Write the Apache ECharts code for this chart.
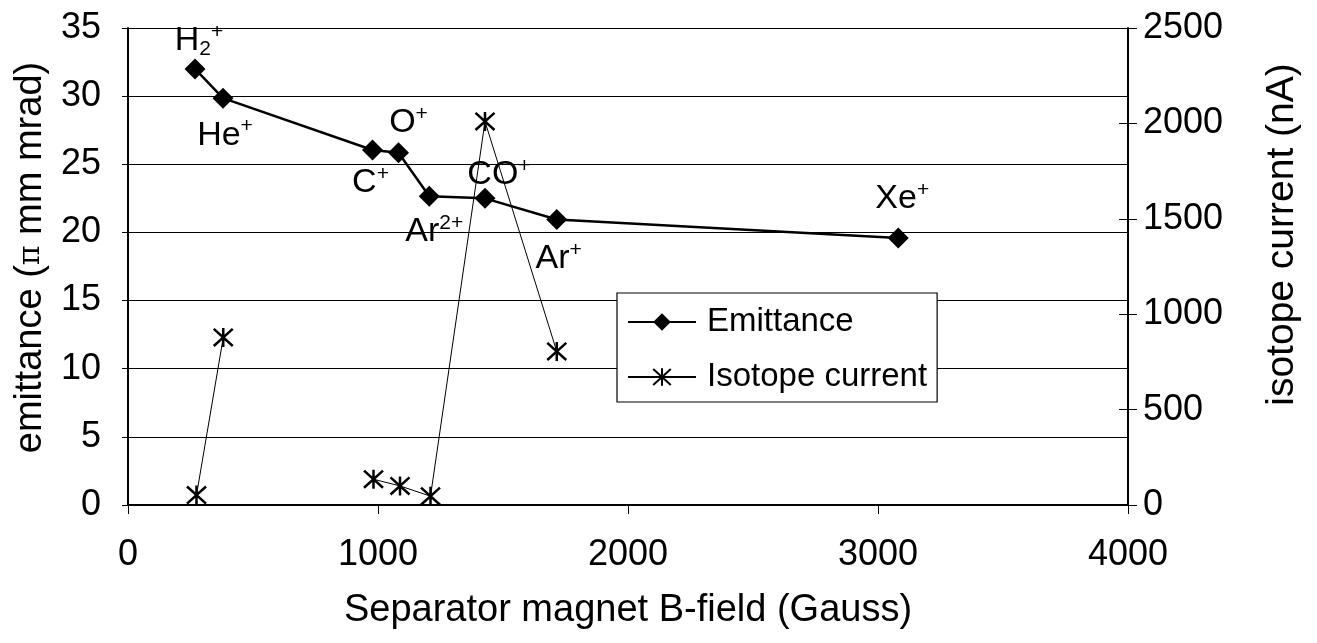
<!DOCTYPE html>
<html>
<head>
<meta charset="utf-8">
<script src="https://cdn.jsdelivr.net/npm/echarts@6/dist/echarts.min.js"></script>
<style>
html,body{margin:0;padding:0;background:#fff;}
#c{width:1317px;height:643px;}
</style>
</head>
<body>
<div id="c"></div>
<script>
// ---- data ----
const bField = [268, 380, 978, 1082, 1205, 1428, 1715, 3081];
const emittance = [32.0, 29.85, 26.05, 25.85, 22.65, 22.5, 20.95, 19.6];
const ionLabels = ['{m|H}{sub|2}{sup|+}', '{m|He}{sup|+}', '{m|C}{sup|+}', '{m|O}{sup|+}', '{m|Ar}{sup|2+}', '{m|CO}{sup|+}', '{m|Ar}{sup|+}', '{m|Xe}{sup|+}'];
const isotopeB = [274, 381, 982, 1088, 1210, 1428, 1715];
const isotopeCurrent = [52, 878, 135, 100, 46, 2010, 805];
const isotopeBreakBefore = [2];
const xTicks = [0, 1000, 2000, 3000, 4000];
const yLeftTicks = [0, 5, 10, 15, 20, 25, 30, 35];
const yRightTicks = [0, 500, 1000, 1500, 2000, 2500];

// ---- label placement (style only) ----
const labelOffsets = [[4, -28], [2, 37], [-2, 33], [10, -30], [5, 35], [14, -24], [2, 39], [4, -39]];

const FONT = '"Liberation Sans", Arial, sans-serif';
const FS = 36;
const NFS = 38;
const richText = {
  m: {fontSize: 34, fontFamily: FONT, color: '#000', lineHeight: 38, verticalAlign: 'middle'},
  sup: {fontSize: 21, fontFamily: FONT, color: '#000', lineHeight: 20, verticalAlign: 'top'},
  sub: {fontSize: 21, fontFamily: FONT, color: '#000', lineHeight: 20, verticalAlign: 'bottom'}
};

const emData = bField.map((b, i) => ({
  value: [b, emittance[i]],
  label: {
    show: true,
    position: 'inside',
    offset: labelOffsets[i],
    formatter: ionLabels[i],
    rich: richText
  }
}));

const isoData = [];
isotopeB.forEach((b, i) => {
  if (isotopeBreakBefore.indexOf(i) >= 0) isoData.push([b, '-']);
  isoData.push([b, isotopeCurrent[i]]);
});

const asterisk = 'path://M0,-10L0,10M-9,-9L9,9M9,-9L-9,9';
const plain = v => String(v);

const chart = echarts.init(document.getElementById('c'), null, {renderer: 'canvas'});
chart.setOption({
  backgroundColor: '#fff',
  animation: false,
  textStyle: {fontFamily: FONT, color: '#000'},
  grid: {left: 128, right: 189, top: 28, bottom: 138, show: false},
  legend: {
    orient: 'vertical',
    left: 617, top: 293,
    padding: [11, 10, 7, 10],
    itemGap: 19,
    itemWidth: 68, itemHeight: 22,
    backgroundColor: '#fff',
    borderColor: '#000', borderWidth: 1.2,
    textStyle: {fontSize: 33, fontFamily: FONT, color: '#000', padding: [0, 0, 0, 6], lineHeight: 36},
    data: ['Emittance', 'Isotope current']
  },
  xAxis: {
    type: 'value', min: xTicks[0], max: xTicks[xTicks.length - 1], interval: 1000,
    name: 'Separator magnet B-field (Gauss)',
    nameLocation: 'middle', nameGap: 87,
    nameTextStyle: {fontSize: NFS, fontFamily: FONT, color: '#000'},
    axisLine: {show: true, onZero: false, lineStyle: {color: '#000', width: 2}},
    axisTick: {show: true, length: 9, lineStyle: {color: '#000', width: 1}},
    axisLabel: {fontSize: FS, fontFamily: FONT, color: '#000', margin: 32, formatter: plain},
    splitLine: {show: false}
  },
  yAxis: [{
    type: 'value', min: yLeftTicks[0], max: yLeftTicks[yLeftTicks.length - 1], interval: 5,
    position: 'left',
    name: 'emittance ({pi|π} mm mrad)',
    nameLocation: 'middle', nameGap: 78, nameRotate: 90,
    nameTextStyle: {fontSize: NFS, fontFamily: FONT, color: '#000', padding: [0, 0, 0, 18],
      rich: {pi: {fontSize: 30, fontFamily: '"DejaVu Serif", serif', color: '#000'}}},
    axisLine: {show: true, lineStyle: {color: '#000', width: 2}},
    axisTick: {show: true, length: 6, lineStyle: {color: '#000', width: 1}},
    axisLabel: {fontSize: FS, fontFamily: FONT, color: '#000', margin: 27, formatter: plain},
    splitLine: {show: true, lineStyle: {color: '#000', width: 1.2}}
  }, {
    type: 'value', min: yRightTicks[0], max: yRightTicks[yRightTicks.length - 1], interval: 500,
    position: 'right',
    name: 'isotope current (nA)',
    nameLocation: 'middle', nameGap: 135, nameRotate: 90,
    nameTextStyle: {fontSize: 39, fontFamily: FONT, color: '#000', padding: [0, 0, 0, 64]},
    axisLine: {show: true, lineStyle: {color: '#000', width: 2}},
    axisTick: {show: true, length: 9, lineStyle: {color: '#000', width: 1}},
    axisLabel: {fontSize: FS, fontFamily: FONT, color: '#000', margin: 15, formatter: plain},
    splitLine: {show: false}
  }, {
    type: 'value', min: yRightTicks[0], max: yRightTicks[yRightTicks.length - 1], interval: 500,
    position: 'right',
    axisLine: {show: false},
    axisTick: {show: true, inside: true, length: 9, lineStyle: {color: '#000', width: 1}},
    axisLabel: {show: false},
    splitLine: {show: false}
  }],
  series: [{
    name: 'Emittance',
    type: 'line',
    yAxisIndex: 0,
    data: emData,
    symbol: 'diamond',
    symbolSize: 21,
    itemStyle: {color: '#000'},
    lineStyle: {color: '#000', width: 2.5},
    z: 5
  }, {
    name: 'Isotope current',
    type: 'line',
    yAxisIndex: 1,
    data: isoData,
    connectNulls: false,
    symbol: asterisk,
    symbolSize: 19,
    itemStyle: {color: '#000', borderColor: '#000', borderWidth: 2.5},
    lineStyle: {color: '#000', width: 1},
    z: 4
  }]
});
</script>
</body>
</html>
